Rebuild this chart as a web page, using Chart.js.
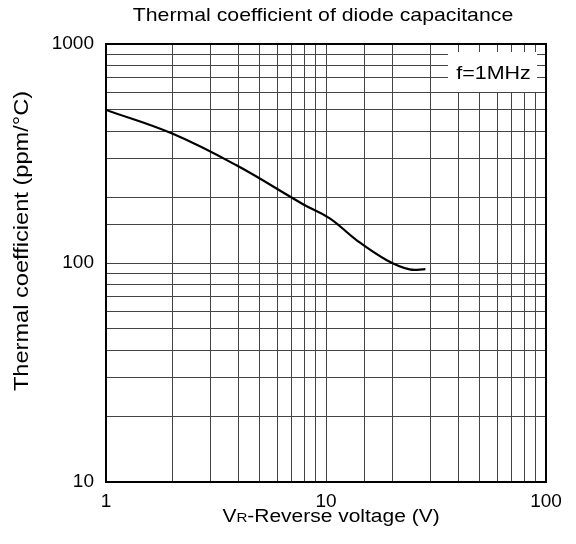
<!DOCTYPE html>
<html><head><meta charset="utf-8">
<style>html,body{margin:0;padding:0;background:#fff;}#wrap{width:576px;height:544px;}</style>
<script src="https://cdn.jsdelivr.net/npm/chart.js@4/dist/chart.umd.min.js"></script>
</head><body><div id="wrap"><canvas id="c" width="576" height="544"></canvas></div>
<script>
const titleText = 'Thermal coefficient of diode capacitance';
const xTitleMain = 'V';
const xTitleSub = 'R';
const xTitleRest = '-Reverse voltage (V)';
const yTitleText = 'Thermal coefficient (ppm/°C)';
const noteText = 'f=1MHz';

const voltage =     [1,   2,   3.9, 7.9, 10.4, 13.8, 18.9, 24,   28.3];
const coefficient = [500, 390, 280, 185, 160,  127,  103,  93.5, 93.8];

const xTickLabels = [1, 10, 100];
const yTickLabels = [10, 100, 1000];

const FONT = 'Liberation Sans, Arial, Helvetica, sans-serif';

const decor = {
  id: 'decor',
  afterDatasetsDraw(chart) {
    const ctx = chart.ctx, a = chart.chartArea;
    ctx.save();
    ctx.fillStyle = '#fff';
    ctx.fillRect(a.right - 98, a.top + 8, 89, 40);
    ctx.fillStyle = '#000';
    ctx.font = '19px ' + FONT;
    ctx.textAlign = 'center';
    ctx.textBaseline = 'alphabetic';
    ctx.translate(a.right - 52.5, a.top + 34.5);
    ctx.scale(1.13, 1);
    ctx.fillText(noteText, 0, 0);
    ctx.restore();
  },
  afterDraw(chart) {
    const ctx = chart.ctx, a = chart.chartArea;
    ctx.save();
    ctx.strokeStyle = '#000';
    ctx.lineWidth = 2;
    ctx.strokeRect(a.left, a.top, a.right - a.left, a.bottom - a.top);
    ctx.fillStyle = '#000';
    // title
    ctx.save();
    ctx.font = '19px ' + FONT;
    ctx.textAlign = 'center';
    ctx.textBaseline = 'alphabetic';
    ctx.translate(323, 20.7);
    ctx.scale(1.12, 1);
    ctx.fillText(titleText, 0, 0);
    ctx.restore();
    // x title
    ctx.save();
    const fMain = '18px ' + FONT, fSub = '13px ' + FONT;
    ctx.font = fMain; const w1 = ctx.measureText(xTitleMain).width;
    const w3 = ctx.measureText(xTitleRest).width;
    ctx.font = fSub; const w2 = ctx.measureText(xTitleSub).width;
    const sx = 1.165;
    const total = (w1 + w2 + w3) * sx;
    ctx.translate(331 - total / 2, 522);
    ctx.scale(sx, 1);
    ctx.textAlign = 'left';
    ctx.textBaseline = 'alphabetic';
    ctx.font = fMain; ctx.fillText(xTitleMain, 0, 0);
    ctx.font = fSub; ctx.fillText(xTitleSub, w1, 0);
    ctx.font = fMain; ctx.fillText(xTitleRest, w1 + w2, 0);
    ctx.restore();
    // y title
    ctx.save();
    ctx.font = '20px ' + FONT;
    ctx.textAlign = 'center';
    ctx.textBaseline = 'alphabetic';
    ctx.translate(28.3, 241);
    ctx.rotate(-Math.PI / 2);
    ctx.scale(1.18, 1);
    ctx.fillText(yTitleText, 0, 0);
    ctx.restore();
    ctx.restore();
  }
};

new Chart(document.getElementById('c'), {
  type: 'line',
  data: {
    datasets: [{
      data: voltage.map((v, i) => ({x: v, y: coefficient[i]})),
      borderColor: '#000',
      borderWidth: 2.2,
      pointRadius: 0,
      fill: false,
      tension: 0.4
    }]
  },
  options: {
    responsive: false,
    animation: false,
    devicePixelRatio: 1,
    layout: {padding: {top: 44, right: 30, left: 0, bottom: 0}},
    plugins: {legend: {display: false}, title: {display: false}, tooltip: {enabled: false}},
    scales: {
      x: {
        type: 'logarithmic', min: 1, max: 100,
        grid: {color: '#444', lineWidth: 1, drawTicks: false},
        border: {display: false},
        ticks: {
          autoSkip: false, maxRotation: 0, minRotation: 0, padding: 8, color: '#000',
          font: {family: FONT, size: 19},
          callback: (v) => xTickLabels.includes(v) ? String(v) : ''
        },
        afterFit: (s) => { s.height = 62; }
      },
      y: {
        type: 'logarithmic', min: 10, max: 1000,
        grid: {color: '#444', lineWidth: 1, drawTicks: false},
        border: {display: false},
        ticks: {
          autoSkip: false, padding: 12, color: '#000',
          font: {family: FONT, size: 19},
          callback: (v) => yTickLabels.includes(v) ? String(v) : ''
        },
        afterFit: (s) => { s.width = 106; }
      }
    }
  },
  plugins: [decor]
});
</script>
</body></html>
